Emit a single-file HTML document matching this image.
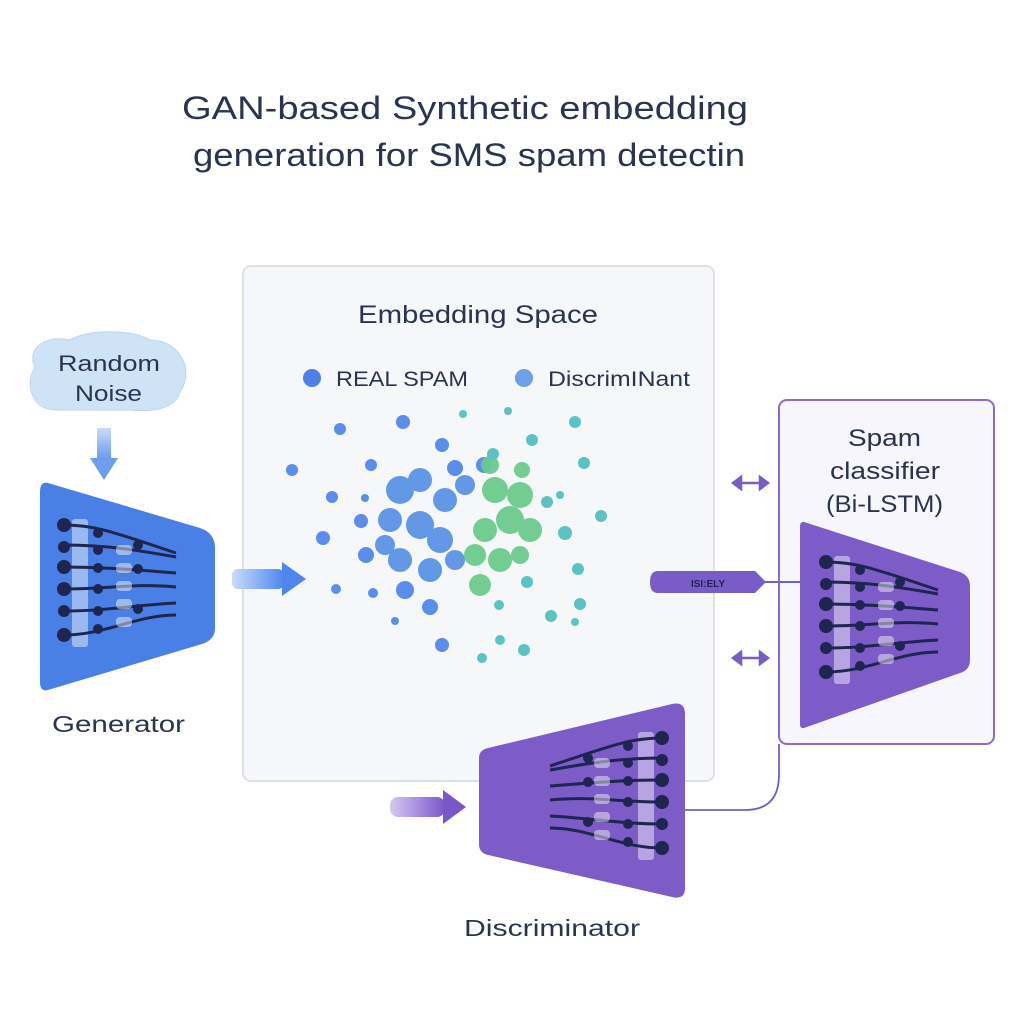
<!DOCTYPE html>
<html><head><meta charset="utf-8"><style>
html,body{margin:0;padding:0;background:#fff;}
svg{display:block;font-family:"Liberation Sans",sans-serif;}
</style></head><body>
<svg width="1024" height="1024" viewBox="0 0 1024 1024" xmlns="http://www.w3.org/2000/svg">
<defs>
<linearGradient id="ga" x1="0" x2="1"><stop offset="0" stop-color="#c9dcfa"/><stop offset="1" stop-color="#4f86ee"/></linearGradient>
<linearGradient id="gd" x1="0" x2="1"><stop offset="0" stop-color="#d6c8f3"/><stop offset="1" stop-color="#7a56c8"/></linearGradient>
<linearGradient id="gv" x1="0" x2="0" y1="0" y2="1"><stop offset="0" stop-color="#c9dcfa"/><stop offset="1" stop-color="#6a9ff0"/></linearGradient>
<g id="net">
  <rect x="-4" y="-6" width="16" height="128" rx="3" fill="#fff" opacity="0.45"/>
  <g stroke="#1e2550" stroke-width="3" fill="none">
    <path d="M-12 0 C20 0 40 8 100 28"/><path d="M-12 20 C30 20 60 25 100 32"/>
    <path d="M-12 42 C30 42 60 45 100 48"/><path d="M-12 64 C30 64 60 58 100 62"/>
    <path d="M-12 86 C30 86 60 80 100 78"/><path d="M-12 110 C30 110 60 90 100 90"/>
  </g>
  <g fill="#1e2550">
    <circle cx="-12" cy="0" r="7"/><circle cx="-12" cy="22" r="6"/><circle cx="-12" cy="42" r="7"/>
    <circle cx="-12" cy="64" r="7"/><circle cx="-12" cy="86" r="6"/><circle cx="-12" cy="110" r="7"/>
    <circle cx="22" cy="8" r="5"/><circle cx="22" cy="25" r="5"/><circle cx="22" cy="43" r="5"/>
    <circle cx="22" cy="64" r="5"/><circle cx="22" cy="86" r="5"/><circle cx="22" cy="104" r="5"/>
    <circle cx="62" cy="20" r="5"/><circle cx="62" cy="44" r="5"/><circle cx="62" cy="84" r="5"/>
  </g>
  <g fill="#fff" opacity="0.45">
    <rect x="40" y="20" width="16" height="10" rx="4"/><rect x="40" y="38" width="16" height="10" rx="4"/>
    <rect x="40" y="56" width="16" height="10" rx="4"/><rect x="40" y="74" width="16" height="10" rx="4"/>
    <rect x="40" y="92" width="16" height="10" rx="4"/>
  </g>
</g>
</defs>

<text x="182" y="119" font-size="32" fill="#2a3350" textLength="566" lengthAdjust="spacingAndGlyphs">GAN-based Synthetic embedding</text>
<text x="193" y="166" font-size="32" fill="#2a3350" textLength="552" lengthAdjust="spacingAndGlyphs">generation for SMS spam detectin</text>

<!-- embedding panel -->
<rect x="243" y="266" width="471" height="515" rx="8" fill="#f6f7f9" stroke="#dfe1e6" stroke-width="2"/>
<text x="358" y="323" font-size="25" fill="#2a3350" textLength="240" lengthAdjust="spacingAndGlyphs">Embedding Space</text>
<circle cx="312" cy="378" r="9" fill="#4f7fe8"/>
<text x="336" y="386" font-size="21" fill="#2a3350" textLength="132" lengthAdjust="spacingAndGlyphs">REAL SPAM</text>
<circle cx="524" cy="378" r="9" fill="#6fa0ea"/>
<text x="548" y="386" font-size="21" fill="#2a3350" textLength="142" lengthAdjust="spacingAndGlyphs">DiscrimINant</text>

<!-- dots -->
<g fill="#5b8eec">
<circle cx="340" cy="429" r="6"/><circle cx="403" cy="422" r="7"/><circle cx="292" cy="470" r="6"/><circle cx="371" cy="465" r="6"/>
<circle cx="332" cy="497" r="6"/><circle cx="361" cy="521" r="7"/><circle cx="366" cy="555" r="8"/><circle cx="323" cy="538" r="7"/>
<circle cx="336" cy="589" r="5"/><circle cx="373" cy="593" r="5"/><circle cx="395" cy="621" r="4"/><circle cx="442" cy="645" r="7"/>
<circle cx="455" cy="468" r="8"/><circle cx="484" cy="465" r="8"/><circle cx="442" cy="445" r="7"/><circle cx="365" cy="498" r="4"/>
<circle cx="430" cy="607" r="8"/><circle cx="405" cy="590" r="9"/>
</g>
<g fill="#5b93e6" opacity="0.95">
<circle cx="400" cy="490" r="14"/><circle cx="420" cy="480" r="12"/><circle cx="390" cy="520" r="12"/><circle cx="420" cy="525" r="14"/>
<circle cx="445" cy="500" r="12"/><circle cx="440" cy="540" r="13"/><circle cx="400" cy="560" r="12"/><circle cx="430" cy="570" r="12"/>
<circle cx="455" cy="560" r="10"/><circle cx="465" cy="485" r="10"/><circle cx="385" cy="545" r="10"/>
</g>
<g fill="#6ccb8e" opacity="0.95">
<circle cx="495" cy="490" r="13"/><circle cx="520" cy="495" r="13"/><circle cx="510" cy="520" r="14"/><circle cx="530" cy="530" r="12"/>
<circle cx="485" cy="530" r="12"/><circle cx="475" cy="555" r="11"/><circle cx="500" cy="560" r="12"/><circle cx="480" cy="585" r="11"/>
<circle cx="520" cy="555" r="9"/><circle cx="490" cy="465" r="9"/><circle cx="522" cy="470" r="8"/>
</g>
<g fill="#5cc3c4">
<circle cx="493" cy="454" r="6"/><circle cx="532" cy="440" r="6"/><circle cx="575" cy="422" r="6"/><circle cx="584" cy="463" r="6"/>
<circle cx="547" cy="502" r="6"/><circle cx="601" cy="516" r="6"/><circle cx="565" cy="533" r="7"/><circle cx="578" cy="569" r="6"/>
<circle cx="527" cy="582" r="6"/><circle cx="580" cy="604" r="6"/><circle cx="551" cy="616" r="6"/><circle cx="499" cy="605" r="5"/>
<circle cx="524" cy="650" r="6"/><circle cx="482" cy="658" r="5"/><circle cx="463" cy="414" r="4"/><circle cx="508" cy="411" r="4"/>
<circle cx="575" cy="622" r="4"/><circle cx="560" cy="495" r="4"/><circle cx="500" cy="640" r="5"/>
</g>

<!-- random noise -->
<path d="M55 410 C30 410 25 380 35 368 C25 345 50 335 70 340 C85 330 130 328 150 340 C180 340 195 370 180 392 C175 410 150 412 130 410 Z" fill="#cfe3f7" stroke="#bcd6f0"/>
<text x="58" y="371" font-size="22" fill="#2a3350" textLength="102" lengthAdjust="spacingAndGlyphs">Random</text>
<text x="75" y="401" font-size="22" fill="#2a3350" textLength="67" lengthAdjust="spacingAndGlyphs">Noise</text>
<rect x="97" y="428" width="14" height="30" fill="url(#gv)"/>
<polygon points="90,458 118,458 104,480" fill="#6a9ff0"/>

<!-- generator -->
<path d="M48 483 L200 528 Q215 533 215 548 L215 628 Q215 640 202 644 L48 690 Q40 692 40 682 L40 492 Q40 481 48 483Z" fill="#4a80e6"/>
<use href="#net" x="76" y="525"/>
<text x="52" y="732" font-size="23" fill="#2a3350" textLength="133" lengthAdjust="spacingAndGlyphs">Generator</text>
<rect x="232" y="569" width="52" height="20" rx="6" fill="url(#ga)"/>
<polygon points="282,562 306,579 282,596" fill="#4f86ee"/>

<!-- classifier box -->
<rect x="779" y="400" width="215" height="344" rx="8" fill="#f6f6fc" stroke="#8a6cd0" stroke-width="2"/>
<text x="848" y="446" font-size="24" fill="#2a3350" textLength="73" lengthAdjust="spacingAndGlyphs">Spam</text>
<text x="830" y="479" font-size="24" fill="#2a3350" textLength="110" lengthAdjust="spacingAndGlyphs">classifier</text>
<text x="826" y="512" font-size="24" fill="#2a3350" textLength="117" lengthAdjust="spacingAndGlyphs">(Bi-LSTM)</text>
<path d="M804 522 L960 572 Q970 576 970 586 L970 660 Q970 670 960 673 L804 728 Q800 729 800 724 L800 527 Q800 521 804 522Z" fill="#7d5cc8"/>
<use href="#net" x="838" y="562"/>
<line x1="765" y1="582" x2="800" y2="582" stroke="#7a5cc8" stroke-width="2"/>
<path d="M658 571 L755 571 L766 582 L755 593 L658 593 Q650 593 650 582 Q650 571 658 571Z" fill="#7a5cc8"/>
<text x="708" y="587" font-size="10" fill="#1e2550" text-anchor="middle" font-weight="bold">ISI:ELY</text>
<g stroke="#7a5cc8" stroke-width="2.5" fill="#7a5cc8">
<line x1="738" y1="483" x2="764" y2="483"/><polygon points="733,483 741,477 741,489"/><polygon points="768,483 760,477 760,489"/>
<line x1="738" y1="658" x2="764" y2="658"/><polygon points="733,658 741,652 741,664"/><polygon points="768,658 760,652 760,664"/>
</g>

<!-- connector -->
<path d="M779 744 L779 775 Q779 810 745 810 L685 810" fill="none" stroke="#7a5cc8" stroke-width="1.8"/>

<!-- discriminator -->
<path d="M488 748 L672 704 Q685 701 685 714 L685 888 Q685 900 672 897 L488 855 Q479 853 479 844 L479 758 Q479 750 488 748Z" fill="#7d5cc8"/>
<g transform="translate(650,738) scale(-1,1)"><use href="#net"/></g>
<text x="464" y="936" font-size="23" fill="#2a3350" textLength="176" lengthAdjust="spacingAndGlyphs">Discriminator</text>
<rect x="390" y="797" width="55" height="20" rx="8" fill="url(#gd)"/>
<polygon points="443,790 466,807 443,824" fill="#7a56c8"/>
</svg>
</body></html>
